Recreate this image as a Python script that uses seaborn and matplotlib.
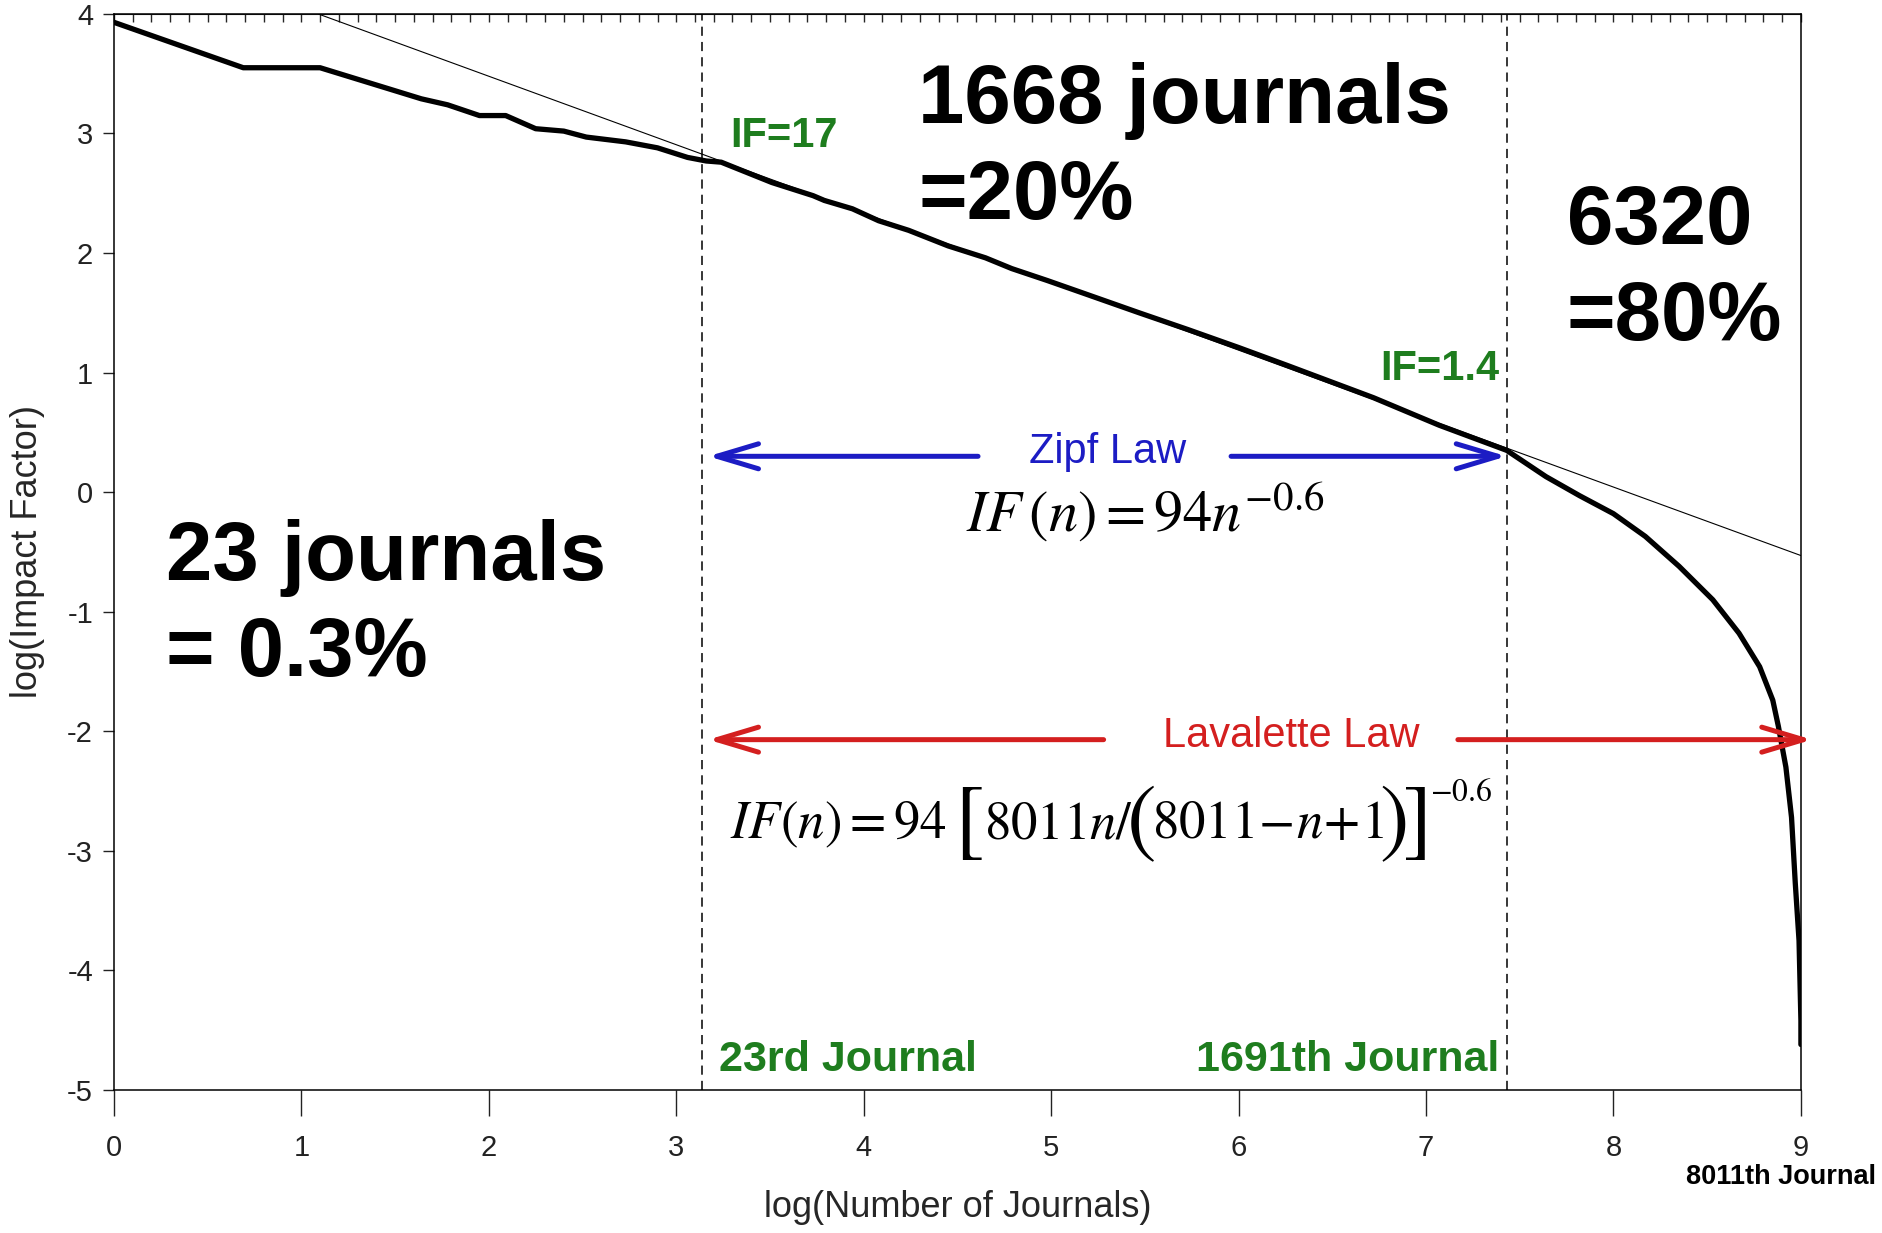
import matplotlib
matplotlib.use("Agg")
import matplotlib.pyplot as plt
from matplotlib.ticker import MultipleLocator
import pandas as pd
import seaborn as sns

# ranked journals: natural log of rank vs natural log of impact factor
log_n = [0.00, 0.69, 1.10, 1.64, 1.78, 1.95, 2.09, 2.25, 2.40, 2.52, 2.73, 2.90,
         3.06, 3.16, 3.24, 3.51, 3.63, 3.73, 3.79, 3.94, 4.08, 4.24, 4.45, 4.65,
         4.79, 4.98, 5.18, 5.47, 5.73, 6.00, 6.26, 6.72, 7.07, 7.43, 7.64, 7.82,
         8.00, 8.17, 8.35, 8.53, 8.67, 8.78, 8.85, 8.88, 8.92, 8.95, 8.97, 8.99,
         9.00, 9.00]
log_if = [3.93, 3.55, 3.55, 3.29, 3.24, 3.15, 3.15, 3.04, 3.02, 2.97, 2.93, 2.88,
          2.80, 2.77, 2.76, 2.59, 2.53, 2.48, 2.44, 2.37, 2.27, 2.19, 2.06, 1.96,
          1.87, 1.77, 1.66, 1.50, 1.36, 1.21, 1.06, 0.79, 0.56, 0.35, 0.13, -0.03,
          -0.18, -0.37, -0.62, -0.90, -1.18, -1.46, -1.74, -1.96, -2.30, -2.72,
          -3.27, -3.75, -4.42, -4.62]

# straight Zipf fit line
zipf_x = [1.09, 9.0]
zipf_y = [4.0, -0.53]

# ln(23) and ln(1691)
bounds = [3.14, 7.43]

GREEN = "#1e7d1e"
BLUE = "#1c1cc4"
RED = "#d41f1f"

sns.set_style("white")
plt.rcParams["font.family"] = ["Liberation Sans", "DejaVu Sans"]
plt.rcParams["mathtext.fontset"] = "stix"
plt.rcParams["axes.unicode_minus"] = False
plt.rcParams["text.color"] = "black"

fig = plt.figure(figsize=(18.83, 12.33), dpi=100)
ax = fig.add_axes([0.0605, 0.116, 0.8959, 0.8727])

df = pd.DataFrame({"x": log_n, "y": log_if})
sns.lineplot(x=zipf_x, y=zipf_y, ax=ax, color="black", lw=0.8, zorder=2)
sns.lineplot(data=df, x="x", y="y", ax=ax, color="black", lw=3.8,
             estimator=None, sort=False, zorder=3)

for b in bounds:
    ax.axvline(b, color="black", lw=1.1, ls=(0, (6, 4)), zorder=1)

ax.set_xlim(0, 9)
ax.set_ylim(-5, 4)
ax.set_xticks(range(0, 10))
ax.set_yticks(range(-5, 5))
ax.xaxis.set_minor_locator(MultipleLocator(0.1))
ax.tick_params(axis="x", which="major", direction="out", length=19, width=1,
               pad=13, labelsize=21, colors="#222222")
ax.tick_params(axis="x", which="minor", direction="out", length=6, width=1)
ax.tick_params(axis="y", which="major", direction="out", length=8, width=1,
               pad=7, labelsize=21, colors="#222222")
ax.tick_params(bottom=True, left=True)
for s in ax.spines.values():
    s.set_visible(True)
    s.set_color("black")
    s.set_linewidth(1.1)

top = ax.secondary_xaxis("top")
top.set_xticks(range(0, 10))
top.xaxis.set_minor_locator(MultipleLocator(0.1))
top.tick_params(which="both", direction="in", length=6, width=1, labeltop=False)

ax.set_xlabel("log(Number of Journals)", fontsize=26, labelpad=20)
ax.set_ylabel("log(Impact Factor)", fontsize=26, labelpad=16)


def two_way(y, left, gap_l, gap_r, right, color):
    style = dict(arrowstyle="->,head_length=1.5,head_width=0.45", lw=3.6,
                 color=color, shrinkA=0, shrinkB=0, mutation_scale=20)
    ax.annotate("", xy=(left, y), xytext=(gap_l, y), arrowprops=style,
                annotation_clip=False)
    ax.annotate("", xy=(right, y), xytext=(gap_r, y), arrowprops=style,
                annotation_clip=False)


two_way(0.30, 3.17, 4.61, 5.96, 7.43, BLUE)
ax.text(5.30, 0.34, "Zipf Law", color=BLUE, fontsize=30, ha="center", va="center")
ax.text(5.50, -0.17, r"$IF\,(n) = 94n^{-0.6}$", fontsize=42,
        ha="center", va="center")

two_way(-2.07, 3.17, 5.28, 7.17, 9.06, RED)
ax.text(6.28, -2.04, "Lavalette Law", color=RED, fontsize=30, ha="center", va="center")

# Lavalette formula set piece by piece so the brackets can be tall
FS, BIG = 38, 64
base_y, mid_y, sup_y = -2.895, -2.77, -2.58
body = [(r"$IF(n)=94$", 3.285), (r"$8011n/$", 4.64), (r"$8011\!-\!n\!+\!1$", 5.54)]
fences = [(r"$[$", 4.48), (r"$($", 5.40), (r"$)$", 6.75), (r"$]$", 6.87)]
for s, x in body:
    ax.text(x, base_y, s, fontsize=FS, ha="left", va="baseline")
for s, x in fences:
    ax.text(x, mid_y, s, fontsize=BIG, ha="left", va="center")
ax.text(7.02, sup_y, r"$-0.6$", fontsize=FS * 0.6, ha="left", va="baseline")

bold = dict(fontweight="bold", va="center")
ax.text(3.29, 2.98, "IF=17", color=GREEN, fontsize=30, ha="left", **bold)
ax.text(7.39, 1.03, "IF=1.4", color=GREEN, fontsize=30, ha="right", **bold)
ax.text(3.23, -4.75, "23rd Journal", color=GREEN, fontsize=31, ha="left", **bold)
ax.text(7.39, -4.75, "1691th Journal", color=GREEN, fontsize=31, ha="right", **bold)

ax.text(4.29, 2.87, "1668 journals\n=20%", fontsize=60, ha="left",
        linespacing=1.3, **bold)
ax.text(7.75, 1.86, "6320\n=80%", fontsize=60, ha="left", linespacing=1.3, **bold)
ax.text(0.28, -0.95, "23 journals\n= 0.3%", fontsize=60, ha="left",
        linespacing=1.3, **bold)

ax.text(9.40, -5.73, "8011th Journal", fontsize=19.5, ha="right", va="center",
        fontweight="bold", clip_on=False)

fig.savefig("out.png", dpi=100)
